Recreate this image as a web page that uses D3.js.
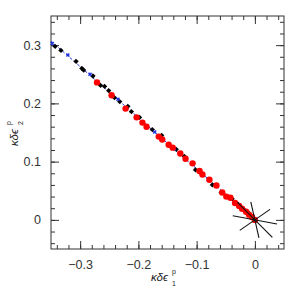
<!DOCTYPE html>
<html>
<head>
<meta charset="utf-8">
<script src="https://d3js.org/d3.v7.min.js"></script>
<style>
  body { margin: 0; background: #fff; }
  text { font-family: "Liberation Sans", "DejaVu Sans", sans-serif; }
</style>
</head>
<body>
<svg width="300" height="300"></svg>
<script>
// ---- data ----
const xTicks = [-0.3, -0.2, -0.1, 0];
const yTicks = [0, 0.1, 0.2, 0.3];

const redX = [-0.271, -0.246, -0.222, -0.203, -0.193, -0.186, -0.165, -0.159, -0.148, -0.141,
              -0.128, -0.119, -0.107, -0.095, -0.090, -0.078, -0.066, -0.056, -0.049, -0.042,
              -0.034, -0.027, -0.022, -0.015, -0.010, -0.005, 0.000];
const redY = [0.236, 0.214, 0.191, 0.176, 0.167, 0.160, 0.143, 0.138, 0.129, 0.124,
              0.114, 0.105, 0.097, 0.084, 0.078, 0.069, 0.059, 0.047, 0.040, 0.038,
              0.029, 0.024, 0.019, 0.014, 0.009, 0.005, 0.000];

const blackX = [-0.343, -0.333, -0.307, -0.297, -0.294, -0.278, -0.265, -0.258, -0.251, -0.241,
                -0.232, -0.218, -0.212, -0.198, -0.176, -0.160, -0.135, -0.121, -0.102, -0.073,
                -0.058, -0.039, -0.030, -0.020, -0.013];
const blackY = [0.298, 0.291, 0.272, 0.260, 0.257, 0.247, 0.231, 0.229, 0.222, 0.210,
                0.203, 0.195, 0.186, 0.176, 0.155, 0.145, 0.121, 0.109, 0.086, 0.060,
                0.047, 0.036, 0.028, 0.019, 0.014];

const blueX = [-0.348, -0.321, -0.283, -0.235, -0.172, -0.138, -0.080, -0.044, -0.018];
const blueY = [0.303, 0.283, 0.250, 0.207, 0.151, 0.122, 0.069, 0.039, 0.016];

const fitX = [-0.35, 0];
const fitY = [0.307, 0];

// star of lines through the origin: end points (opposite ends mirrored)
const starDX = [-0.038, -0.007, 0.026, -0.030];
const starDY = [0.007, 0.031, 0.018, 0.030];

// ---- layout ----
const svg = d3.select("svg");
const margin = {left: 51, right: 16, top: 16, bottom: 51};
const W = 300 - margin.left - margin.right;
const H = 300 - margin.top - margin.bottom;

const x = d3.scaleLinear().domain([-0.35, 0.05]).range([0, W]);
const y = d3.scaleLinear().domain([-0.05, 0.35]).range([H, 0]);

const g = svg.append("g").attr("transform", `translate(${margin.left},${margin.top})`);

const fmt = d => d === 0 ? "0" : d3.format(".1f")(d).replace("-", "\u2212");
const minorX = d3.range(-0.34, 0.05, 0.02).map(v => +v.toFixed(2));
const minorY = d3.range(-0.04, 0.35, 0.02).map(v => +v.toFixed(2));

function styleAxis(sel) {
  sel.select(".domain").remove();
  sel.selectAll("line").attr("stroke", "#333").attr("stroke-width", 1);
  sel.selectAll("text").attr("fill", "#333").style("font-size", "12.5px");
}

// minor ticks
g.append("g").attr("transform", `translate(0,${H})`)
  .call(d3.axisBottom(x).tickValues(minorX).tickSize(-4).tickFormat("")).call(styleAxis);
g.append("g")
  .call(d3.axisTop(x).tickValues(minorX).tickSize(-4).tickFormat("")).call(styleAxis);
g.append("g")
  .call(d3.axisLeft(y).tickValues(minorY).tickSize(-4).tickFormat("")).call(styleAxis);
g.append("g").attr("transform", `translate(${W},0)`)
  .call(d3.axisRight(y).tickValues(minorY).tickSize(-4).tickFormat("")).call(styleAxis);

// major ticks
g.append("g").attr("transform", `translate(0,${H})`)
  .call(d3.axisBottom(x).tickValues(xTicks).tickSize(-8).tickPadding(11).tickFormat(fmt)).call(styleAxis);
g.append("g")
  .call(d3.axisTop(x).tickValues(xTicks).tickSize(-8).tickFormat("")).call(styleAxis);
g.append("g")
  .call(d3.axisLeft(y).tickValues(yTicks).tickSize(-8).tickPadding(10).tickFormat(fmt)).call(styleAxis);
g.append("g").attr("transform", `translate(${W},0)`)
  .call(d3.axisRight(y).tickValues(yTicks).tickSize(-8).tickFormat("")).call(styleAxis);

g.append("rect").attr("width", W).attr("height", H)
  .attr("fill", "none").attr("stroke", "#333").attr("stroke-width", 1);

// fitted line
g.append("line")
  .attr("x1", x(fitX[0])).attr("y1", y(fitY[0]))
  .attr("x2", x(fitX[1])).attr("y2", y(fitY[1]))
  .attr("stroke", "#2233dd").attr("stroke-width", 1).attr("stroke-dasharray", "3,2");

// black markers
g.append("g").selectAll("path").data(blackX).join("path")
  .attr("transform", (d, i) => `translate(${x(d)},${y(blackY[i])}) rotate(42)`)
  .attr("d", d3.symbol(d3.symbolSquare, 14))
  .attr("fill", "#000");

// blue crosses
g.append("g").selectAll("path").data(blueX).join("path")
  .attr("transform", (d, i) => `translate(${x(d)},${y(blueY[i])}) rotate(45)`)
  .attr("d", d3.symbol(d3.symbolCross, 10))
  .attr("fill", "#2233dd");

// red circles
g.append("g").selectAll("circle").data(redX).join("circle")
  .attr("cx", d => x(d)).attr("cy", (d, i) => y(redY[i]))
  .attr("r", 3.2).attr("fill", "#ff0000");

// star at origin
g.append("g").selectAll("line").data(starDX).join("line")
  .attr("x1", d => x(d)).attr("y1", (d, i) => y(starDY[i]))
  .attr("x2", d => x(-d)).attr("y2", (d, i) => y(-starDY[i]))
  .attr("stroke", "#111").attr("stroke-width", 1.1);

// axis labels
svg.append("text").attr("x", 151).attr("y", 281)
  .style("font-size", "11.5px").style("font-style", "italic").attr("fill", "#222").text("κδϵ");
svg.append("text").attr("x", 172).attr("y", 274).style("font-size", "7px").attr("fill", "#222").text("p");
svg.append("text").attr("x", 172).attr("y", 286).style("font-size", "7px").attr("fill", "#222").text("1");

const yl = svg.append("g").attr("transform", "translate(18,146) rotate(-90)");
yl.append("text").attr("x", 0).attr("y", 0)
  .style("font-size", "11.5px").style("font-style", "italic").attr("fill", "#222").text("κδϵ");
yl.append("text").attr("x", 21).attr("y", -7).style("font-size", "7px").attr("fill", "#222").text("p");
yl.append("text").attr("x", 21).attr("y", 5).style("font-size", "7px").attr("fill", "#222").text("2");
</script>
</body>
</html>
